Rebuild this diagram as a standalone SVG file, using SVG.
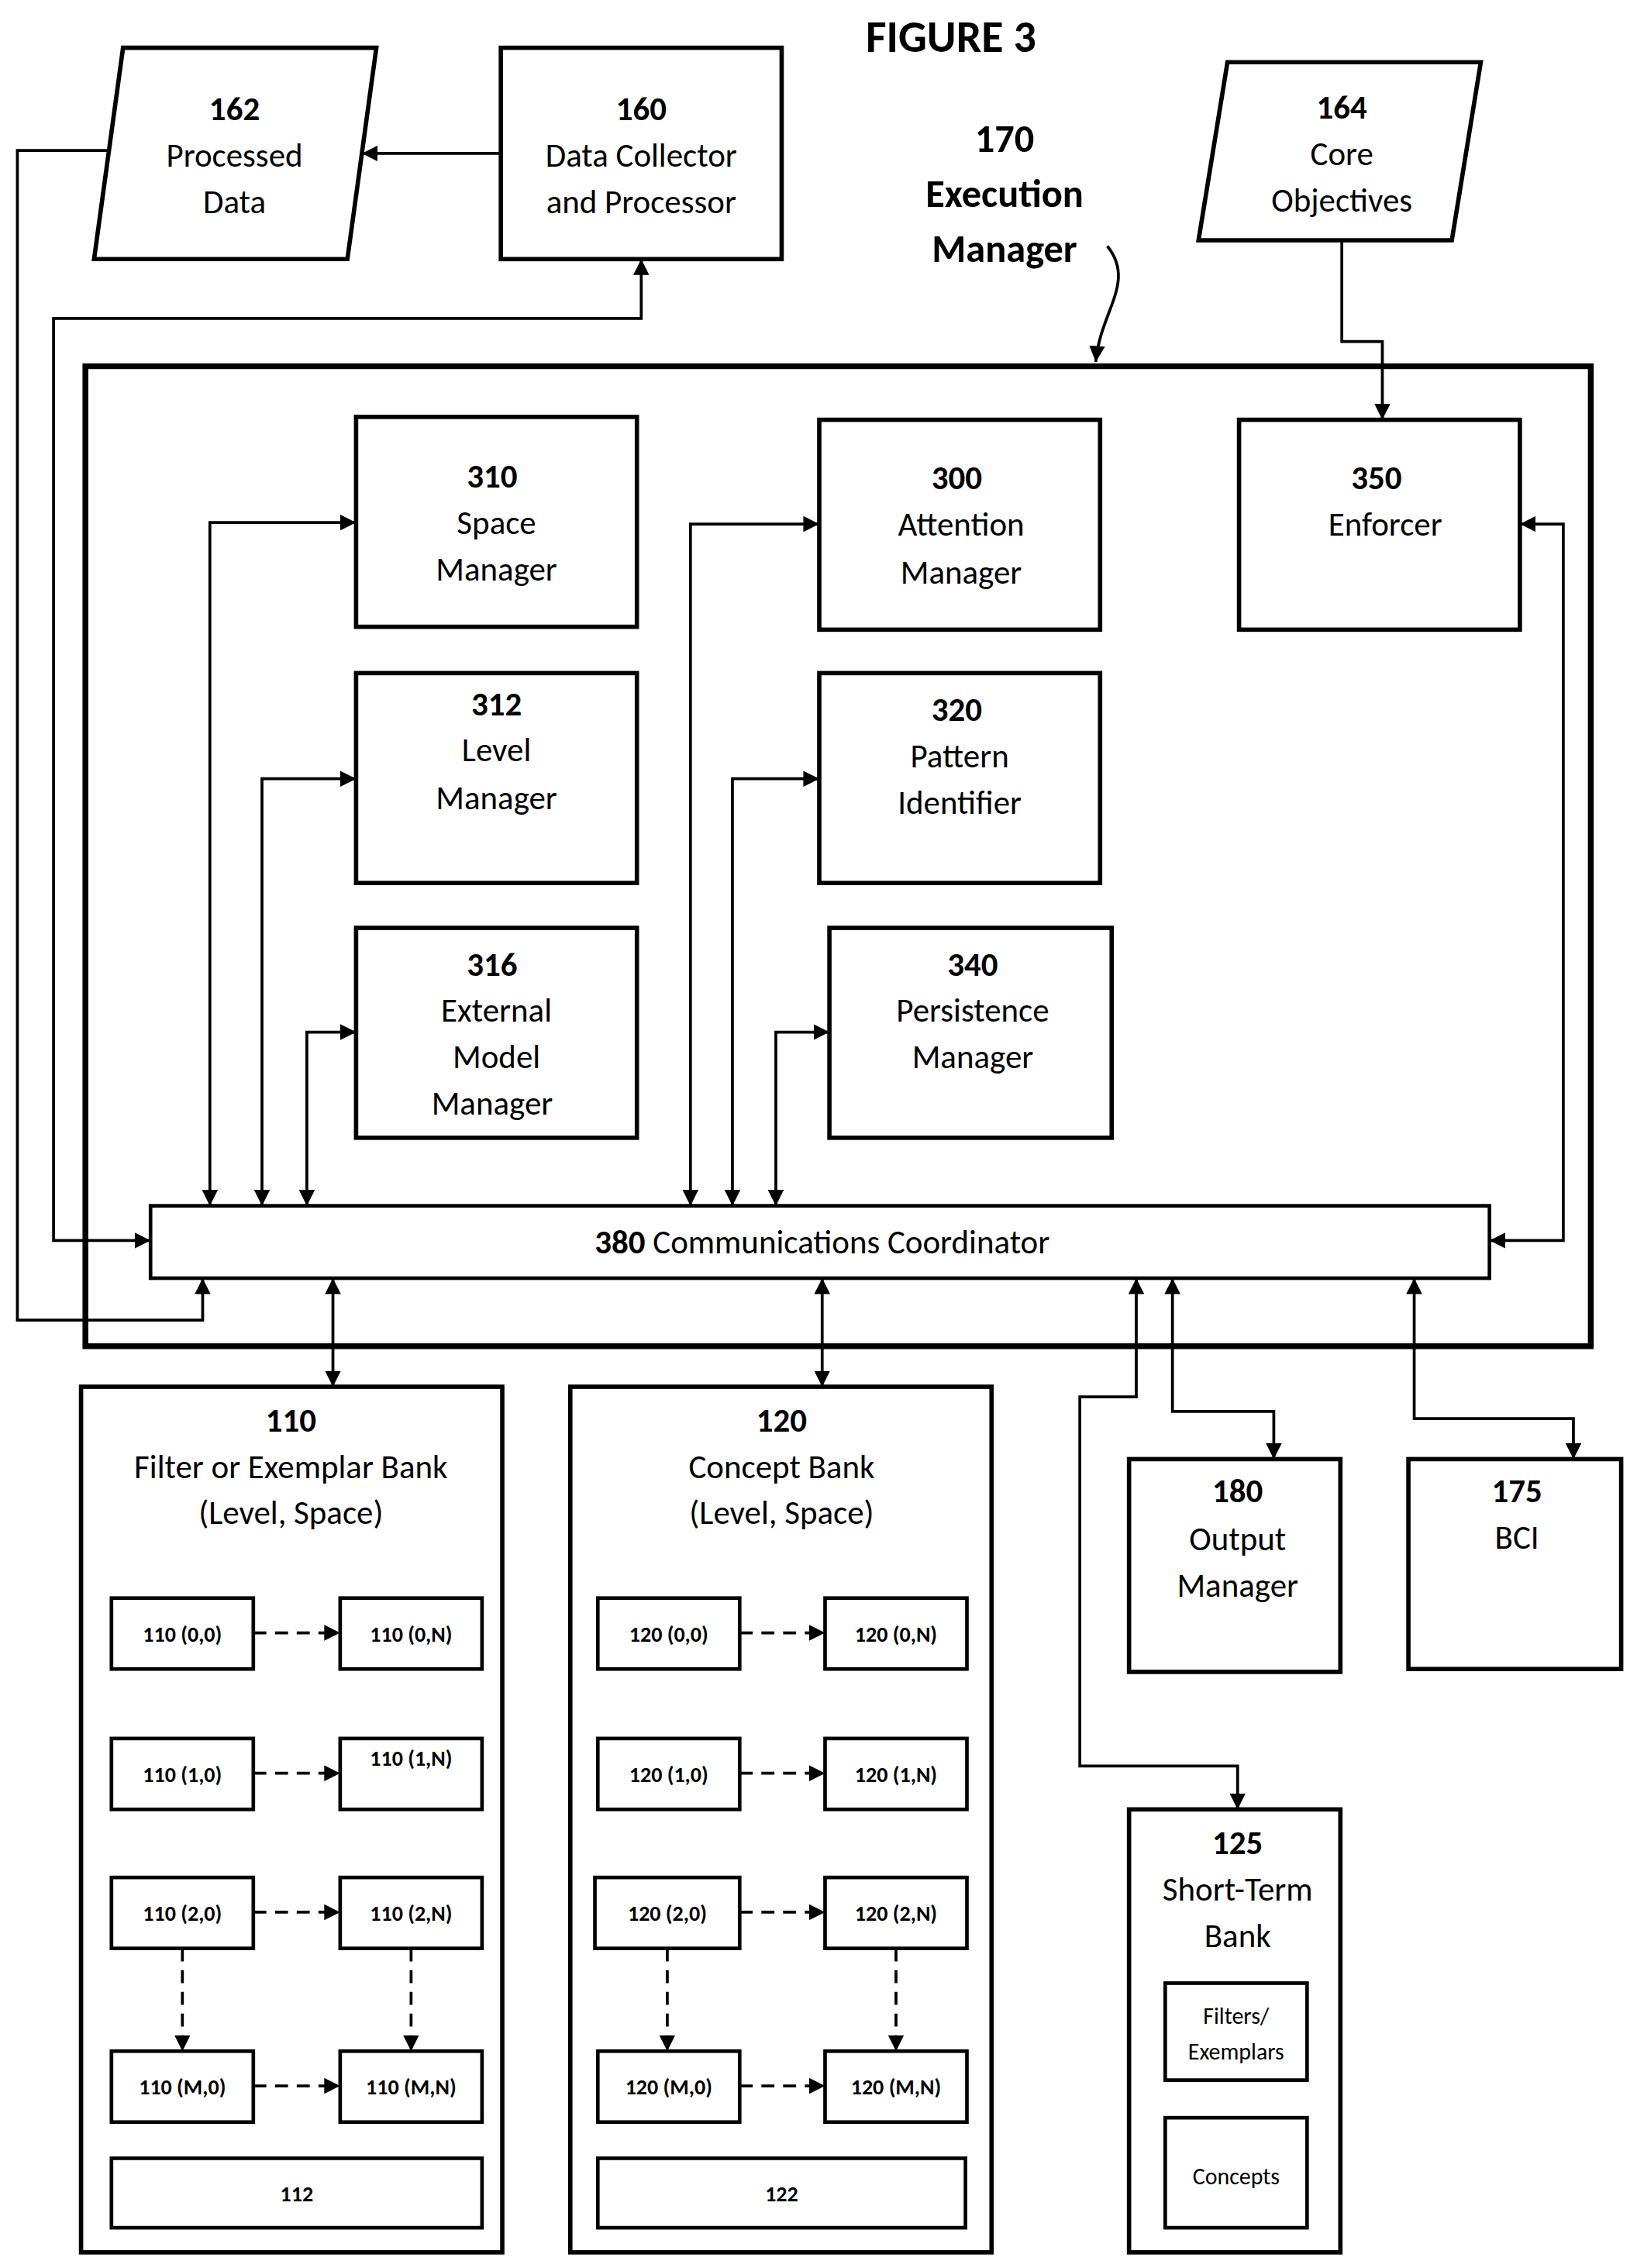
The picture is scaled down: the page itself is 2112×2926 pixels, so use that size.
<svg xmlns="http://www.w3.org/2000/svg" width="2112" height="2926" viewBox="0 0 2112 2926">
<defs>
<marker id="ah" viewBox="0 0 10 10" refX="10" refY="5" markerWidth="11" markerHeight="11" markerUnits="userSpaceOnUse" orient="auto-start-reverse"><path d="M0,0 L10,5 L0,10 z" fill="#000"/></marker>
<style>
.b{fill:#fff;stroke:#000;stroke-width:3}
.s{fill:#fff;stroke:#000;stroke-width:2.5}
.c{fill:none;stroke:#000;stroke-width:2}
.d{fill:none;stroke:#000;stroke-width:2;stroke-dasharray:9,6}
text{font-family:"Calibri","Carlito","Liberation Sans",sans-serif;font-size:23px;text-anchor:middle;fill:#000}
.n{font-weight:bold}
.sm{font-size:15px;font-weight:bold}
.t{font-size:16px}
</style>
</defs>
<rect width="2112" height="2926" fill="#fff"/>
<g transform="scale(1.8675)">
<text x="657" y="36" class="n" style="font-size:31px">FIGURE 3</text>
<g id="n170"><text x="694" y="105" class="n" style="font-size:27px">170</text><text x="694" y="143" class="n" style="font-size:27px">Execution</text><text x="694" y="181" class="n" style="font-size:27px">Manager</text></g>
<rect x="59" y="253" width="1040" height="677" fill="none" stroke="#000" stroke-width="4"/>
<g id="n162"><polygon class="b" points="85,33 260,33 240,179 65,179"/><text x="162" y="83" class="n">162</text><text x="162" y="115">Processed</text><text x="162" y="147">Data</text></g>
<g id="n160"><rect class="b" x="346" y="33" width="194" height="146"/><text x="443" y="83" class="n">160</text><text x="443" y="115">Data Collector</text><text x="443" y="147">and Processor</text></g>
<g id="n164"><polygon class="b" points="848,43 1023,43 1003,166 828,166"/><text x="927" y="82" class="n">164</text><text x="927" y="114">Core</text><text x="927" y="146">Objectives</text></g>
<g id="n310"><rect class="b" x="246" y="288" width="194" height="145"/><text x="340" y="337" class="n">310</text><text x="343" y="369">Space</text><text x="343" y="401">Manager</text></g>
<g id="n300"><rect class="b" x="566" y="290" width="194" height="145"/><text x="661" y="338" class="n">300</text><text x="664" y="370">Attention</text><text x="664" y="403">Manager</text></g>
<g id="n350"><rect class="b" x="856" y="290" width="194" height="145"/><text x="951" y="338" class="n">350</text><text x="957" y="370">Enforcer</text></g>
<g id="n312"><rect class="b" x="246" y="465" width="194" height="145"/><text x="343" y="494" class="n">312</text><text x="343" y="526">Level</text><text x="343" y="559">Manager</text></g>
<g id="n320"><rect class="b" x="566" y="465" width="194" height="145"/><text x="661" y="498" class="n">320</text><text x="663" y="530">Pattern</text><text x="663" y="562">Identifier</text></g>
<g id="n316"><rect class="b" x="246" y="641" width="194" height="145"/><text x="340" y="674" class="n">316</text><text x="343" y="706">External</text><text x="343" y="738">Model</text><text x="340" y="770">Manager</text></g>
<g id="n340"><rect class="b" x="573" y="641" width="195" height="145"/><text x="672" y="674" class="n">340</text><text x="672" y="706">Persistence</text><text x="672" y="738">Manager</text></g>
<g id="n380"><rect class="s" x="104" y="833" width="925" height="50"/><text x="568" y="866"><tspan class="n">380</tspan> Communications Coordinator</text></g>
<g id="n180"><rect class="b" x="780" y="1008" width="146" height="147"/><text x="855" y="1038" class="n">180</text><text x="855" y="1071">Output</text><text x="855" y="1103">Manager</text></g>
<g id="n175"><rect class="b" x="973" y="1008" width="147" height="145"/><text x="1048" y="1038" class="n">175</text><text x="1048" y="1070">BCI</text></g>
<g id="n125"><rect class="b" x="780" y="1250" width="146" height="306"/><text x="855" y="1281" class="n">125</text><text x="855" y="1313">Short-Term</text><text x="855" y="1345">Bank</text>
<rect class="s" x="805" y="1370" width="98" height="67"/><text x="854" y="1398" class="t">Filters/</text><text x="854" y="1423" class="t">Exemplars</text>
<rect class="s" x="805" y="1463" width="98" height="76"/><text x="854" y="1509" class="t">Concepts</text></g>
<g id="n110"><rect class="b" x="56" y="958" width="291" height="598"/><text x="201" y="989" class="n">110</text><text x="201" y="1021">Filter or Exemplar Bank</text><text x="201" y="1053">(Level, Space)</text>
<rect class="s" x="77" y="1104" width="98" height="49"/><text x="126" y="1134" class="sm">110 (0,0)</text>
<rect class="s" x="235" y="1104" width="98" height="49"/><text x="284" y="1134" class="sm">110 (0,N)</text>
<rect class="s" x="77" y="1201" width="98" height="49"/><text x="126" y="1231" class="sm">110 (1,0)</text>
<rect class="s" x="235" y="1201" width="98" height="49"/><text x="284" y="1220" class="sm">110 (1,N)</text>
<rect class="s" x="77" y="1297" width="98" height="49"/><text x="126" y="1327" class="sm">110 (2,0)</text>
<rect class="s" x="235" y="1297" width="98" height="49"/><text x="284" y="1327" class="sm">110 (2,N)</text>
<rect class="s" x="77" y="1417" width="98" height="49"/><text x="126" y="1447" class="sm">110 (M,0)</text>
<rect class="s" x="235" y="1417" width="98" height="49"/><text x="284" y="1447" class="sm">110 (M,N)</text>
<rect class="s" x="77" y="1491" width="256" height="48"/><text x="205" y="1521" class="sm">112</text></g>
<g id="n120"><rect class="b" x="394" y="958" width="291" height="598"/><text x="540" y="989" class="n">120</text><text x="540" y="1021">Concept Bank</text><text x="540" y="1053">(Level, Space)</text>
<rect class="s" x="413" y="1104" width="98" height="49"/><text x="462" y="1134" class="sm">120 (0,0)</text>
<rect class="s" x="570" y="1104" width="98" height="49"/><text x="619" y="1134" class="sm">120 (0,N)</text>
<rect class="s" x="413" y="1201" width="98" height="49"/><text x="462" y="1231" class="sm">120 (1,0)</text>
<rect class="s" x="570" y="1201" width="98" height="49"/><text x="619" y="1231" class="sm">120 (1,N)</text>
<rect class="s" x="411" y="1297" width="100" height="49"/><text x="461" y="1327" class="sm">120 (2,0)</text>
<rect class="s" x="570" y="1297" width="98" height="49"/><text x="619" y="1327" class="sm">120 (2,N)</text>
<rect class="s" x="413" y="1417" width="98" height="49"/><text x="462" y="1447" class="sm">120 (M,0)</text>
<rect class="s" x="570" y="1417" width="98" height="49"/><text x="619" y="1447" class="sm">120 (M,N)</text>
<rect class="s" x="413" y="1491" width="254" height="48"/><text x="540" y="1521" class="sm">122</text></g>
<g id="connectors">
<path class="c" d="M765,170 C785,195 760,215 757,250" marker-end="url(#ah)"/>
<path class="c" d="M145,833 V361 H246" marker-start="url(#ah)" marker-end="url(#ah)"/>
<path class="c" d="M181,833 V538 H246" marker-start="url(#ah)" marker-end="url(#ah)"/>
<path class="c" d="M212,833 V713 H246" marker-start="url(#ah)" marker-end="url(#ah)"/>
<path class="c" d="M477,833 V362 H566" marker-start="url(#ah)" marker-end="url(#ah)"/>
<path class="c" d="M506,833 V538 H566" marker-start="url(#ah)" marker-end="url(#ah)"/>
<path class="c" d="M536,833 V713 H573" marker-start="url(#ah)" marker-end="url(#ah)"/>
<path class="c" d="M1050,362 H1080 V857 H1029" marker-start="url(#ah)" marker-end="url(#ah)"/>
<path class="c" d="M927,166 V236 H955 V290" marker-end="url(#ah)"/>
<path class="c" d="M346,106 H250" marker-end="url(#ah)"/>
<path class="c" d="M75,104 H12 V912 H140 V883" marker-end="url(#ah)"/>
<path class="c" d="M104,857 H37 V220 H443 V179" marker-start="url(#ah)" marker-end="url(#ah)"/>
<path class="c" d="M230,883 V958" marker-start="url(#ah)" marker-end="url(#ah)"/>
<path class="c" d="M568,883 V958" marker-start="url(#ah)" marker-end="url(#ah)"/>
<path class="c" d="M785,883 V965 H746 V1220 H855 V1250" marker-start="url(#ah)" marker-end="url(#ah)"/>
<path class="c" d="M810,883 V975 H880 V1008" marker-start="url(#ah)" marker-end="url(#ah)"/>
<path class="c" d="M977,883 V980 H1087 V1008" marker-start="url(#ah)" marker-end="url(#ah)"/>
<path class="d" d="M175,1128 H235" marker-end="url(#ah)"/>
<path class="d" d="M175,1225 H235" marker-end="url(#ah)"/>
<path class="d" d="M175,1321 H235" marker-end="url(#ah)"/>
<path class="d" d="M175,1441 H235" marker-end="url(#ah)"/>
<path class="d" d="M126,1346 V1417" marker-end="url(#ah)"/>
<path class="d" d="M284,1346 V1417" marker-end="url(#ah)"/>
<path class="d" d="M511,1128 H570" marker-end="url(#ah)"/>
<path class="d" d="M511,1225 H570" marker-end="url(#ah)"/>
<path class="d" d="M511,1321 H570" marker-end="url(#ah)"/>
<path class="d" d="M511,1441 H570" marker-end="url(#ah)"/>
<path class="d" d="M461,1346 V1417" marker-end="url(#ah)"/>
<path class="d" d="M619,1346 V1417" marker-end="url(#ah)"/>
</g>
</g>
</svg>
